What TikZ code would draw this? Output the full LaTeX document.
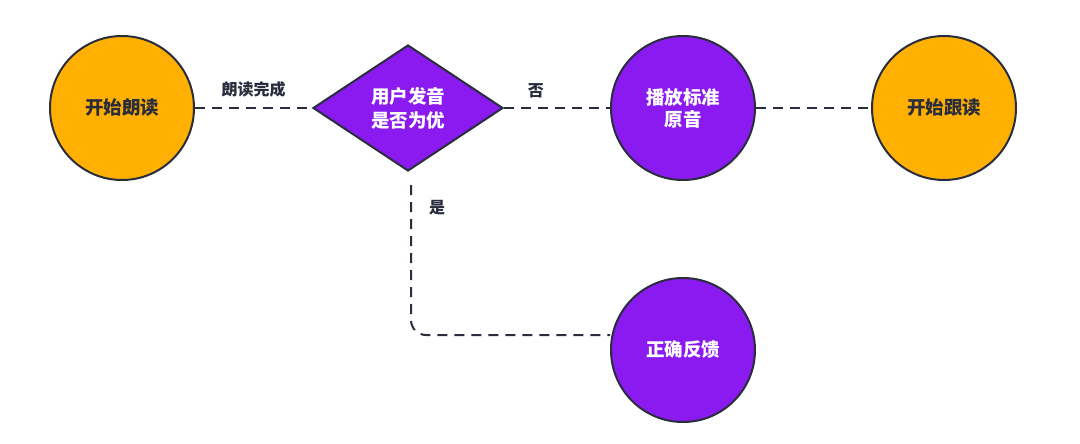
\documentclass[tikz,border=0pt]{standalone}
\usepackage{fontspec}
\newfontfamily\cjk{Noto Sans CJK SC}
\usetikzlibrary{shapes.geometric}
\definecolor{orng}{HTML}{FFB000}
\definecolor{purp}{HTML}{8A1AF0}
\definecolor{edge}{HTML}{2A2D3E}
\begin{document}
\begin{tikzpicture}[x=1pt,y=-1pt,
  circ/.style={circle,draw=edge,line width=2pt,minimum size=144pt,inner sep=0pt,font=\cjk\bfseries\fontsize{18.5}{22}\selectfont,align=center},
  dia/.style={diamond,draw=edge,line width=2pt,fill=purp,text=white,aspect=1.5,minimum width=190pt,minimum height=126pt,inner sep=0pt,font=\cjk\bfseries\fontsize{18.5}{24}\selectfont,align=center},
  link/.style={draw=edge,line width=2pt,dash pattern=on 10pt off 7pt},
  lab/.style={font=\cjk\bfseries\fontsize{16}{19}\selectfont,text=edge}]
\useasboundingbox[fill=white] (0,0) rectangle (1080,444);
\node[circ,fill=orng,text=edge] (a) at (122,108) {开始朗读};
\node[dia] (d) at (408,108) {用户发音\\是否为优};
\node[circ,fill=purp,text=white] (p) at (683,108) {播放标准\\原音};
\node[circ,fill=orng,text=edge] (f) at (944,108) {开始跟读};
\node[circ,fill=purp,text=white] (c) at (683,350) {正确反馈};
\draw[link] (a) -- (d) node[lab,midway,above=6pt] {朗读完成};
\draw[link] (d) -- (p) node[lab,pos=0.3,above=6pt] {否};
\draw[link] (p) -- (f);
\coordinate (s) at (411,185);
\draw[link] (s) -- (411,320) to[out=-90,in=180] (426,335) -- (c.west |- 0,335);
\node[lab] (y) at (437,208) {是};
\end{tikzpicture}
\end{document}
